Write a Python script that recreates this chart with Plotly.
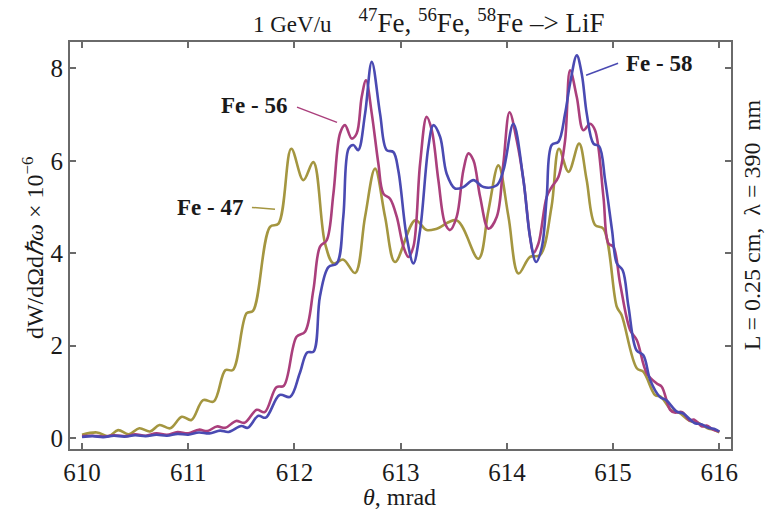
import plotly.graph_objects as go

# Emission angle theta (mrad) and spectral-angular density dW/dOmega d(hbar omega), x 1e-6
theta_58 = [610.00, 610.10, 610.20, 610.30, 610.40, 610.50, 610.60, 610.70, 610.80, 610.90,
            611.00, 611.10, 611.20, 611.30, 611.38, 611.50, 611.56, 611.66, 611.73, 611.86,
            611.96, 612.05, 612.12, 612.18, 612.24, 612.32, 612.40, 612.46, 612.51, 612.555,
            612.60, 612.665, 612.728, 612.806, 612.868, 612.931, 612.978, 613.057, 613.12, 613.183,
            613.261, 613.308, 613.371, 613.433, 613.512, 613.59, 613.685, 613.78, 613.905, 613.967,
            614.061, 614.156, 614.218, 614.275, 614.33, 614.375, 614.422, 614.485, 614.548, 614.595,
            614.658, 614.705, 614.752, 614.815, 614.87, 614.925, 614.99, 615.035, 615.09, 615.145,
            615.22, 615.285, 615.35, 615.44, 615.50, 615.60, 615.66, 615.77, 615.83, 615.90,
            615.96, 616.00]
dw_58 = [0.02, 0.04, 0.02, 0.05, 0.03, 0.06, 0.04, 0.07, 0.05, 0.09,
         0.07, 0.12, 0.10, 0.16, 0.13, 0.26, 0.22, 0.48, 0.44, 0.93,
         0.89, 1.40, 1.85, 1.87, 3.06, 3.70, 3.78, 4.79, 6.26, 6.34,
         6.23, 7.02, 8.14, 7.02, 6.23, 6.19, 5.79, 4.35, 3.78, 4.50,
         6.30, 6.77, 6.52, 5.72, 5.40, 5.43, 5.58, 5.43, 5.47, 5.79,
         6.80, 5.58, 4.35, 3.81, 4.14, 5.22, 6.34, 6.41, 7.02, 7.67,
         8.28, 7.88, 7.02, 6.37, 6.31, 5.58, 4.50, 3.78, 3.63, 2.84,
         1.90, 1.79, 1.25, 0.89, 0.82, 0.57, 0.53, 0.32, 0.30, 0.22,
         0.19, 0.14]

theta_56 = [610.00, 610.10, 610.20, 610.30, 610.42, 610.50, 610.60, 610.70, 610.80, 610.90,
            611.00, 611.10, 611.18, 611.27, 611.35, 611.45, 611.53, 611.645, 611.72, 611.83,
            611.90, 612.02, 612.10, 612.178, 612.241, 612.304, 612.367, 612.429, 612.476, 612.539,
            612.586, 612.633, 612.674, 612.728, 612.79, 612.837, 612.90, 612.963, 613.026, 613.073,
            613.12, 613.183, 613.245, 613.293, 613.355, 613.418, 613.465, 613.528, 613.59, 613.638,
            613.685, 613.748, 613.826, 613.905, 613.967, 614.025, 614.093, 614.156, 614.218, 614.25,
            614.297, 614.375, 614.422, 614.485, 614.548, 614.595, 614.658, 614.72, 614.783, 614.83,
            614.909, 614.956, 615.003, 615.066, 615.16, 615.223, 615.317, 615.411, 615.458, 615.537,
            615.58, 615.65, 615.72, 615.76, 615.84, 615.88, 615.95, 616.00]
dw_56 = [0.04, 0.05, 0.03, 0.06, 0.04, 0.08, 0.05, 0.10, 0.07, 0.13,
         0.10, 0.18, 0.15, 0.25, 0.22, 0.37, 0.33, 0.61, 0.56, 1.10,
         1.13, 2.19, 2.30, 3.20, 4.14, 4.28, 5.29, 6.59, 6.77, 6.48,
         6.59, 7.38, 7.74, 7.02, 5.94, 5.29, 5.18, 4.79, 4.14, 3.92,
         4.14, 5.94, 6.95, 6.66, 5.58, 4.64, 4.50, 4.79, 5.79, 6.16,
         6.01, 5.22, 4.53, 4.79, 5.94, 7.05, 6.44, 5.58, 4.35, 4.01,
         4.21, 5.22, 5.43, 5.65, 6.44, 7.96, 7.38, 6.66, 6.80, 6.66,
         5.22, 4.21, 4.14, 3.34, 2.34, 2.12, 1.40, 1.18, 1.11, 0.61,
         0.55, 0.56, 0.38, 0.40, 0.25, 0.27, 0.17, 0.14]

theta_47 = [610.00, 610.14, 610.25, 610.34, 610.44, 610.54, 610.64, 610.73, 610.83, 610.94,
            611.03, 611.14, 611.24, 611.35, 611.42, 611.55, 611.61, 611.77, 611.85, 611.97,
            612.084, 612.178, 612.288, 612.367, 612.461, 612.571, 612.665, 612.759, 612.853, 612.947,
            613.136, 613.245, 613.34, 613.528, 613.732, 613.826, 613.92, 614.015, 614.109, 614.218,
            614.313, 614.42, 614.49, 614.58, 614.68, 614.75, 614.83, 614.909, 615.035, 615.08,
            615.223, 615.286, 615.395, 615.45, 615.55, 615.62, 615.72, 615.80, 615.90, 615.95,
            616.00]
dw_47 = [0.07, 0.12, 0.04, 0.17, 0.08, 0.21, 0.14, 0.28, 0.21, 0.46,
         0.39, 0.82, 0.79, 1.47, 1.47, 2.70, 2.75, 4.57, 4.64, 6.26,
         5.58, 5.97, 4.21, 3.78, 3.86, 3.57, 4.79, 5.83, 4.79, 3.81,
         4.71, 4.50, 4.53, 4.71, 3.88, 4.92, 5.90, 4.79, 3.56, 3.92,
         3.96, 5.00, 6.26, 5.76, 6.37, 5.60, 4.61, 4.53, 2.84, 2.66,
         1.51, 1.43, 0.93, 0.89, 0.60, 0.55, 0.37, 0.33, 0.20, 0.18,
         0.12]

x_ticks = [610, 611, 612, 613, 614, 615, 616]
y_ticks = [0, 2, 4, 6, 8]

COL_58 = "#4a4ab2"
COL_56 = "#aa3f7c"
COL_47 = "#a49640"
SERIF = "Liberation Serif"
INK = "#1a1a1a"
FRAME = "#6a6a6a"

fig = go.Figure()
for xs, ys, col, name in [(theta_47, dw_47, COL_47, "Fe - 47"),
                          (theta_56, dw_56, COL_56, "Fe - 56"),
                          (theta_58, dw_58, COL_58, "Fe - 58")]:
    fig.add_trace(go.Scatter(x=xs, y=ys, mode="lines", name=name,
                             line=dict(color=col, width=2.6, shape="spline", smoothing=1.0)))

axis_common = dict(showgrid=False, zeroline=False, showline=True, linecolor=FRAME, linewidth=2,
                   mirror="ticks", ticks="inside", ticklen=6, tickwidth=1.5, tickcolor=FRAME,
                   tickfont=dict(family=SERIF, size=25, color=INK))

fig.update_xaxes(range=[609.887, 616.11], tickvals=x_ticks, ticktext=[str(v) for v in x_ticks],
                 **axis_common)
fig.update_yaxes(range=[-0.238, 8.57], tickvals=y_ticks, ticktext=[str(v) for v in y_ticks],
                 **axis_common)

# series labels with leader lines
labels = [
    ("Fe - 58", 615.104, 8.11, "left", COL_58, (615.047, 8.11), (614.746, 7.85)),
    ("Fe - 56", 611.949, 7.20, "right", COL_56, (612.024, 7.16), (612.401, 6.83)),
    ("Fe - 47", 611.535, 4.99, "right", COL_47, (611.600, 4.99), (611.817, 4.95)),
]
for text, lx, ly, anchor, col, p0, p1 in labels:
    fig.add_annotation(x=lx, y=ly, xref="x", yref="y", text=f"<b>{text}</b>", showarrow=False,
                       xanchor=anchor, yanchor="middle",
                       font=dict(family=SERIF, size=23, color=INK))
    fig.add_shape(type="line", xref="x", yref="y", x0=p0[0], y0=p0[1], x1=p1[0], y1=p1[1],
                  line=dict(color=col, width=1.5))

# titles
fig.add_annotation(
    x=0.543, y=1.052, xref="paper", yref="paper", showarrow=False,
    text="<span style='font-size:23px'>1 GeV/u</span>    <sup>47</sup>Fe, <sup>56</sup>Fe, <sup>58</sup>Fe –> LiF",
    font=dict(family=SERIF, size=27, color=INK), xanchor="center", yanchor="middle")
fig.add_annotation(
    x=-0.056, y=0.496, xref="paper", yref="paper", showarrow=False, textangle=-90,
    text="dW/dΩd<i>ℏω</i> × 10<sup>−6</sup>",
    font=dict(family=SERIF, size=24, color=INK), xanchor="center", yanchor="middle")
fig.add_annotation(
    x=0.499, y=-0.118, xref="paper", yref="paper", showarrow=False,
    text="<i>θ</i>, mrad",
    font=dict(family=SERIF, size=24, color=INK), xanchor="center", yanchor="middle")
fig.add_annotation(
    x=1.032, y=0.550, xref="paper", yref="paper", showarrow=False, textangle=-90,
    text="L = 0.25 cm,  λ = 390  nm",
    font=dict(family=SERIF, size=24, color=INK), xanchor="center", yanchor="middle")

fig.update_layout(
    width=775, height=516, showlegend=False,
    margin=dict(l=70, r=44, t=42, b=67),
    plot_bgcolor="white", paper_bgcolor="white",
    font=dict(family=SERIF, color=INK),
)

fig.write_html("out.html")
